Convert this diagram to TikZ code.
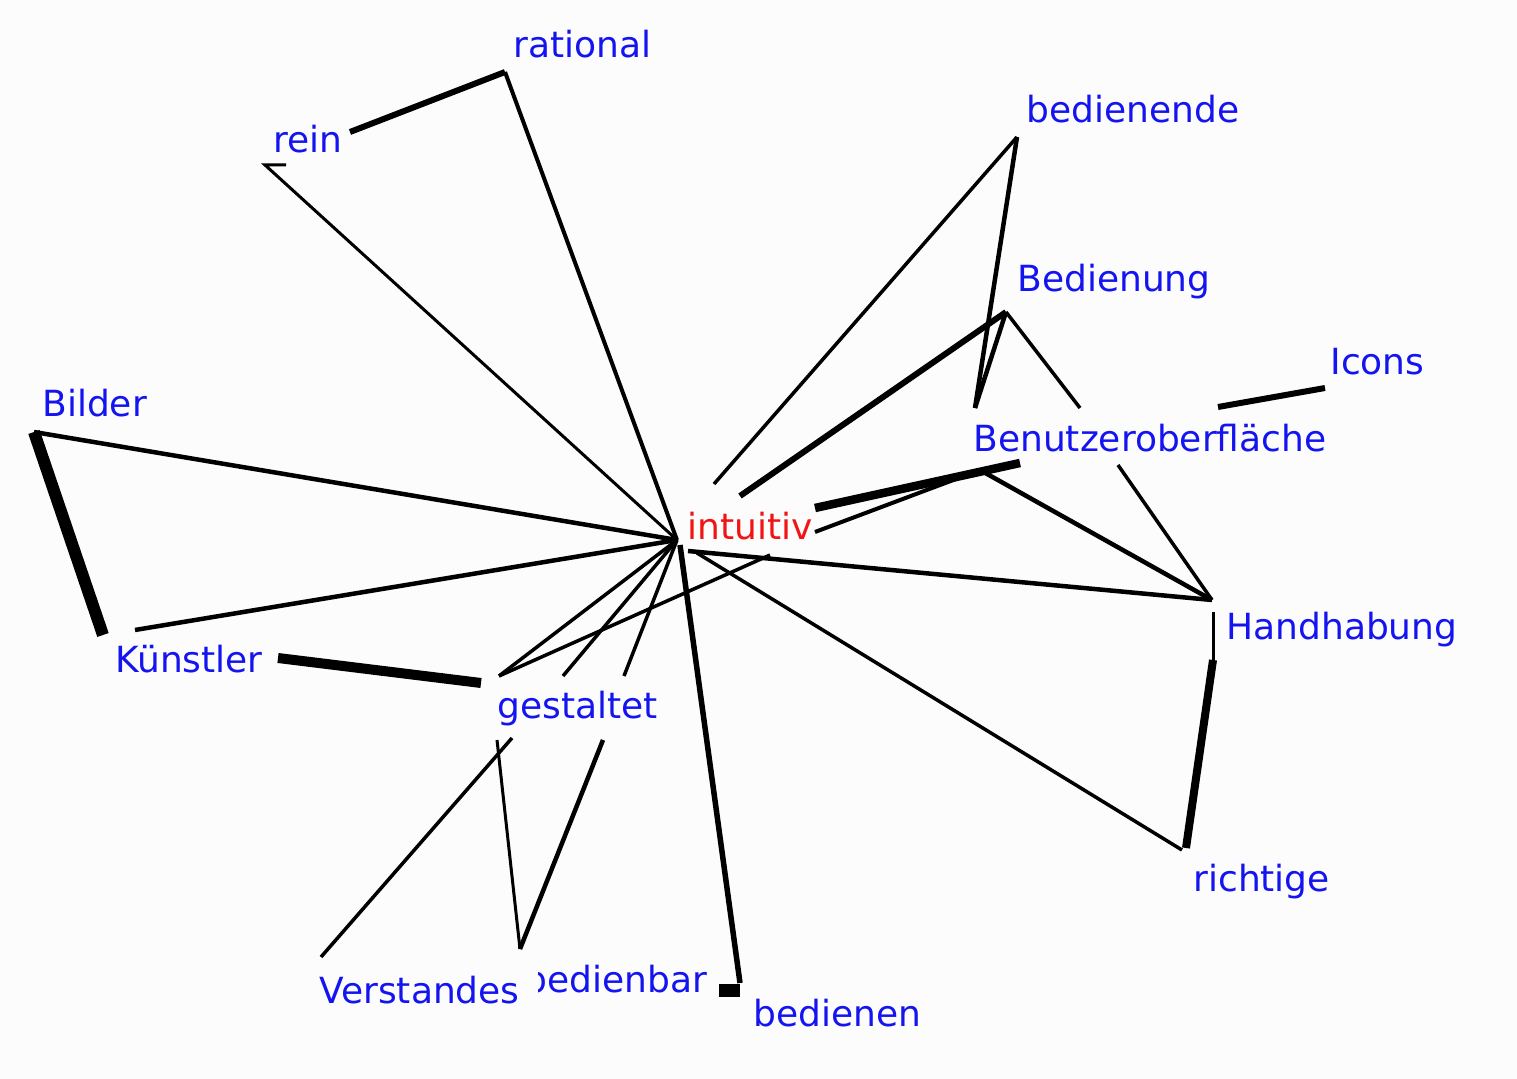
\documentclass[tikz,border=0pt]{standalone}
\usepackage{fontspec}
\setmainfont{DejaVu Sans}
\definecolor{bg}{RGB}{252,252,252}
\definecolor{lblblue}{RGB}{20,20,240}
\definecolor{lblred}{RGB}{240,20,20}
\begin{document}
\begin{tikzpicture}[x=0.5pt,y=-0.5pt,
  lbl/.style={font=\fontsize{18pt}{20pt}\selectfont, text=lblblue, anchor=base west, inner sep=0pt},
  edge/.style={line width=#1*0.5pt, black, line cap=butt, line join=miter},
  edge/.default=3]
\fill[bg] (0,0) rectangle (1517,1079);
\useasboundingbox (0,0) rectangle (1517,1079);
% endpoints
\coordinate (hub) at (677,540);
\coordinate (pRational) at (505,72);
\coordinate (pReinA) at (350,132);
\coordinate (pReinB) at (265,165);
\coordinate (pReinTick) at (286,165);
\coordinate (pBilder) at (34,432);
\coordinate (pKuenA) at (103,635);
\coordinate (pKuenB) at (135,630);
\coordinate (pKuenC) at (278,658);
\coordinate (pGestA) at (481,683);
\coordinate (pGestB) at (499,676);
\coordinate (pGestC) at (563,676);
\coordinate (pGestD) at (624,676);
\coordinate (pGestE) at (497,740);
\coordinate (pGestF) at (512,738);
\coordinate (pGestG) at (603,740);
\coordinate (pVerst) at (321,957);
\coordinate (pBedbar) at (520,949);
\coordinate (pHubB) at (680,545);
\coordinate (pBedienen) at (740,983);
\coordinate (pIntR) at (770,555);
\coordinate (pHubH) at (688,551);
\coordinate (pHubR) at (697,553);
\coordinate (pRich) at (1182,850);
\coordinate (pRichB) at (1186,848);
\coordinate (pHandTop) at (1212,600);
\coordinate (pHandB) at (1213,612);
\coordinate (pHandC) at (1213,660);
\coordinate (pIntA) at (815,508);
\coordinate (pBenB) at (1020,463);
\coordinate (pIntLow) at (815,532);
\coordinate (pBenC) at (980,470);
\coordinate (pBenD) at (1118,465);
\coordinate (pIntBed) at (740,496);
\coordinate (pBedienung) at (1006,312);
\coordinate (pIntBede) at (714,484);
\coordinate (pBedienende) at (1017,137);
\coordinate (pBenV) at (975,408);
\coordinate (pBenE) at (1080,408);
\coordinate (pIcons) at (1325,388);
\coordinate (pIconsB) at (1218,407);
% connectors
\draw[edge=6] (pReinA) -- (pRational);
\draw[edge=4] (pRational) -- (hub);
\draw[edge=3] (pReinTick) -- (pReinB) -- (hub);
\draw[edge=4.5] (pBilder) -- (hub);
\draw[edge=12] (pBilder) -- (pKuenA);
\draw[edge=4.5] (pKuenB) -- (hub);
\draw[edge=10] (pKuenC) -- (pGestA);
\draw[edge=3.5] (pGestB) -- (hub);
\draw[edge=3.5] (pGestB) -- (pIntR);
\draw[edge=3.5] (pGestC) -- (hub);
\draw[edge=3.5] (pGestD) -- (hub);
\draw[edge=3.5] (pGestF) -- (pVerst);
\draw[edge=3] (pGestE) -- (pBedbar);
\draw[edge=4.5] (pGestG) -- (pBedbar);
\draw[edge=5.5] (pHubB) -- (pBedienen);
\fill[black] (719,984) rectangle (740,997);
\draw[edge=3.5] (pHubR) -- (pRich);
\draw[edge=8] (pRichB) -- (pHandC);
\draw[edge=3] (pHandC) -- (pHandB);
\draw[edge=4.5] (pHubH) -- (pHandTop);
\draw[edge=8.5] (pIntA) -- (pBenB);
\draw[edge=4] (pIntLow) -- (pBenC);
\draw[edge=4.5] (pBenC) -- (pHandTop);
\draw[edge=3.5] (pBenD) -- (pHandTop);
\draw[edge=6] (pIntBed) -- (pBedienung);
\draw[edge=3.5] (pIntBede) -- (pBedienende);
\draw[edge=4.5] (pBedienende) -- (pBenV);
\draw[edge=4.5] (pBedienung) -- (pBenV);
\draw[edge=3.5] (pBedienung) -- (pBenE);
\draw[edge=6] (pIconsB) -- (pIcons);
% labels
\node[lbl] (rational) at (513,58) {rational};
\node[lbl] (rein) at (273,153) {rein};
\node[lbl] (bedienende) at (1026,123) {bedienende};
\node[lbl] (Bedienung) at (1017,292) {Bedienung};
\node[lbl] (Icons) at (1330,375) {Icons};
\node[lbl] (Benutzeroberflaeche) at (973,452) {Benutzeroberfläche};
\node[lbl, text=lblred] (intuitiv) at (687,540) {intuitiv};
\node[lbl] (Bilder) at (42,417) {Bilder};
\node[lbl] (Kuenstler) at (115,673) {Künstler};
\node[lbl] (Handhabung) at (1226,640) {Handhabung};
\node[lbl] (richtige) at (1193,892) {richtige};
\node[lbl] (gestaltet) at (497,719) {gestaltet};
\node[lbl] (bedienbar) at (524,993) {bedienbar};
\node[lbl, fill=bg, inner ysep=6pt, text width=109.5pt, align=left] (Verstandes) at (319,1003) {Verstandes};
\node[lbl] (bedienen) at (753,1026) {bedienen};
\end{tikzpicture}
\end{document}
